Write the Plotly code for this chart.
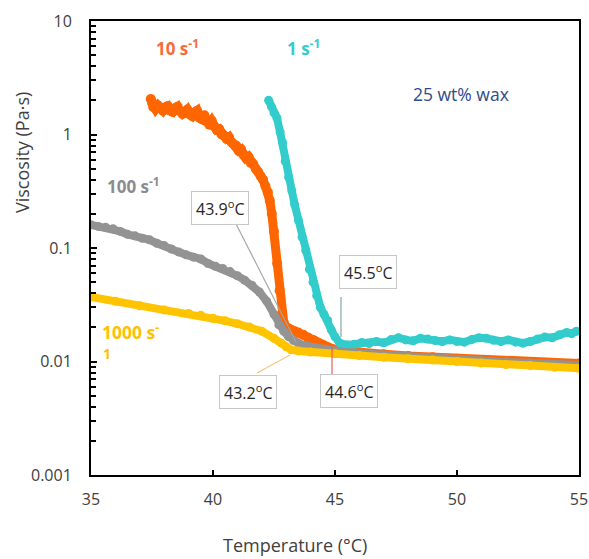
import plotly.graph_objects as go

# ---------------- data ----------------
t_10 = [37.45, 37.5, 37.55, 37.65, 37.75, 37.85, 37.95, 38.05, 38.15, 38.25, 38.35, 38.45,
        38.55, 38.65, 38.75, 38.85, 38.95, 39.05, 39.15, 39.25, 39.35, 39.45, 39.55, 39.65,
        39.75, 39.85, 39.95, 40.05, 40.15, 40.25, 40.35, 40.45, 40.55, 40.65, 40.75, 40.85,
        40.95, 41.05, 41.15, 41.25, 41.35, 41.45, 41.55, 41.65, 41.75, 41.85, 41.95, 42.05,
        42.15, 42.25, 42.33, 42.41, 42.5, 42.63, 42.73, 42.83, 42.9, 43.0, 43.1, 43.2,
        43.35, 43.5, 43.7, 43.9, 44.1, 44.3, 44.5, 44.7, 44.9, 45.2, 45.6, 46.0, 47.0,
        48.0, 49.0, 50.0, 51.0, 52.0, 53.0, 54.0, 55.0]
eta_10 = [2.05, 1.9, 1.75, 1.68, 1.80, 1.70, 1.62, 1.74, 1.78, 1.62, 1.58, 1.70,
          1.76, 1.60, 1.52, 1.58, 1.66, 1.50, 1.45, 1.56, 1.62, 1.40, 1.36, 1.48,
          1.30, 1.22, 1.32, 1.18, 1.10, 1.12, 1.00, 0.98, 0.92, 0.95, 0.86, 0.82,
          0.80, 0.72, 0.74, 0.66, 0.62, 0.64, 0.56, 0.55, 0.50, 0.47, 0.43, 0.40,
          0.35, 0.31, 0.26, 0.20, 0.14, 0.073, 0.042, 0.0265, 0.022, 0.020, 0.0195, 0.019,
          0.0185, 0.018, 0.0172, 0.0163, 0.0155, 0.0146, 0.0139, 0.0133, 0.0129, 0.0125, 0.0122, 0.0120, 0.0116,
          0.0112, 0.0109, 0.0106, 0.0103, 0.0101, 0.0099, 0.0097, 0.0096]

t_1 = [42.28, 42.4, 42.5, 42.62, 42.75, 42.85, 42.96, 43.1, 43.23, 43.35, 43.5, 43.65,
       43.8, 43.95, 44.1, 44.25, 44.4, 44.55, 44.7, 44.85, 45.0, 45.2, 45.5, 45.8, 46.1,
       46.4, 46.7, 47.0, 47.3, 47.6, 47.9, 48.2, 48.5, 48.8, 49.1, 49.4, 49.7, 50.0,
       50.3, 50.6, 50.9, 51.2, 51.5, 51.8, 52.1, 52.4, 52.7, 53.0, 53.3, 53.6, 53.9,
       54.2, 54.5, 54.7, 54.9]
eta_1 = [2.0, 1.75, 1.55, 1.40, 1.05, 0.85, 0.58, 0.42, 0.32, 0.24, 0.175, 0.125,
         0.095, 0.065, 0.050, 0.038, 0.030, 0.026, 0.023, 0.019, 0.0165, 0.0145, 0.0140, 0.0142, 0.0147,
         0.0144, 0.0150, 0.0146, 0.0156, 0.0162, 0.0155, 0.0152, 0.0160, 0.0158, 0.0153, 0.0150, 0.0155, 0.0150,
         0.0148, 0.0156, 0.0162, 0.0160, 0.0154, 0.0150, 0.0155, 0.0148, 0.0145, 0.0150, 0.0158, 0.0164, 0.0162,
         0.0172, 0.0180, 0.0176, 0.0185]

t_100 = [35.0, 35.3, 35.6, 35.9, 36.2, 36.5, 36.8, 37.1, 37.4, 37.7, 38.0, 38.3, 38.6,
         38.9, 39.2, 39.5, 39.8, 40.1, 40.4, 40.7, 41.0, 41.3, 41.6, 41.9, 42.2, 42.5,
         42.7, 42.9, 43.1, 43.3, 43.5, 43.8, 44.2, 44.6, 45.0, 46.0, 47.0, 48.0, 49.0,
         50.0, 51.0, 52.0, 53.0, 54.0, 55.0]
eta_100 = [0.160, 0.155, 0.152, 0.148, 0.140, 0.132, 0.128, 0.122, 0.118, 0.110, 0.105, 0.098, 0.092,
           0.087, 0.083, 0.080, 0.073, 0.069, 0.066, 0.062, 0.057, 0.052, 0.047, 0.041, 0.034, 0.026,
           0.021, 0.0185, 0.0165, 0.0153, 0.0145, 0.0138, 0.0132, 0.0128, 0.0124, 0.0118, 0.0114, 0.0110, 0.0107,
           0.0104, 0.0101, 0.0099, 0.0097, 0.0095, 0.0093]

t_1000 = [35.0, 36.0, 37.0, 38.0, 39.0, 39.5, 40.0, 40.5, 41.0, 41.5, 42.0, 42.5, 42.8,
          43.0, 43.2, 43.5, 44.0, 45.0, 46.0, 47.0, 48.0, 49.0, 50.0, 51.0, 52.0, 53.0,
          54.0, 55.0]
eta_1000 = [0.037, 0.034, 0.031, 0.0285, 0.0265, 0.0255, 0.024, 0.0228, 0.0215, 0.0201, 0.0185, 0.0160, 0.0145,
            0.0135, 0.0127, 0.0124, 0.0121, 0.0117, 0.0113, 0.0109, 0.0106, 0.0103, 0.0100, 0.0097, 0.0094, 0.0092,
            0.0089, 0.0087]

x_ticks = [35, 40, 45, 50, 55]
y_major = [0.001, 0.01, 0.1, 1, 10]
y_major_text = ["0.001", "0.01", "0.1", "1", "10"]

# ---------------- figure ----------------
W, H = 589, 559
L, R, T, B = 91, 10, 21, 84
PW, PH = W - L - R, H - T - B


def px(x):
    return (x - L) / PW


def py(y):
    return (H - B - y) / PH


FONT = "Open Sans"
C_OR, C_CY, C_GR, C_YE = "#FF6600", "#33CCCC", "#939393", "#FFC400"

fig = go.Figure()
for t, e, c, w in [(t_10, eta_10, C_OR, 9), (t_1, eta_1, C_CY, 8),
                   (t_100, eta_100, C_GR, 8), (t_1000, eta_1000, C_YE, 8)]:
    fig.add_trace(go.Scatter(x=t, y=e, mode="lines+markers",
                             line=dict(color=c, width=w),
                             marker=dict(color=c, size=w + 1),
                             showlegend=False, hoverinfo="skip"))

# minor tick values on log axis (2..9 within each decade)
y_minor = [d * m for d in y_major[:-1] for m in range(2, 10)]

fig.update_xaxes(range=[35, 55], tickvals=x_ticks, ticks="inside", ticklen=5,
                 tickwidth=1.5, tickcolor="black", showline=True, mirror=True,
                 linecolor="black", linewidth=2, showgrid=False, zeroline=False,
                 tickfont=dict(family=FONT, size=16, color="#404040"),
                 ticklabelstandoff=9, automargin=False)
fig.update_yaxes(type="log", range=[-3, 1], tickvals=y_major, ticktext=y_major_text,
                 ticks="inside", ticklen=6, tickwidth=1.5, tickcolor="black",
                 minor=dict(tickmode="array", tickvals=y_minor, ticks="inside",
                            ticklen=5, tickwidth=1.5, tickcolor="black", showgrid=False),
                 showline=True, mirror=True, linecolor="black", linewidth=2,
                 showgrid=False, zeroline=False,
                 tickfont=dict(family=FONT, size=16, color="#404040"),
                 ticklabelstandoff=14, automargin=False)

ann = []


def text(x, y, s, color, size=17, bold=False, xanchor="center"):
    ann.append(dict(x=px(x), y=py(y), xref="paper", yref="paper", text=(f"<b>{s}</b>" if bold else s),
                    showarrow=False, xanchor=xanchor, yanchor="middle",
                    font=dict(family=FONT, size=size, color=color)))


text(177, 47, "10 s<sup>-1</sup>", "#F86A3A", bold=True)
text(303, 47, "1 s<sup>-1</sup>", C_CY, bold=True)
text(461, 94, "25 wt% wax", "#2F4B8A", size=17.5)
text(133, 185, "100 s<sup>-1</sup>", "#8C8C8C", bold=True)
text(100, 331, "1000 s<sup>-</sup>", "#FFC000", size=17.5, bold=True, xanchor="left")
text(101, 353, "1", "#FFC000", size=14, bold=True, xanchor="left")

for (cx, cy, s) in [(220, 208, "43.9<sup>o</sup>C"), (368, 272, "45.5<sup>o</sup>C"),
                    (248, 392, "43.2<sup>o</sup>C"), (349, 391, "44.6<sup>o</sup>C")]:
    ann.append(dict(x=px(cx), y=py(cy), xref="paper", yref="paper", text=s,
                    showarrow=False, xanchor="center", yanchor="middle",
                    bgcolor="white", bordercolor="#C8C8C8", borderwidth=1, borderpad=4,
                    font=dict(family=FONT, size=16, color="#262626")))

ann.append(dict(x=px(22), y=py(153), xref="paper", yref="paper", text="Viscosity (Pa·s)",
                showarrow=False, textangle=-90, xanchor="center", yanchor="middle",
                font=dict(family=FONT, size=18, color="#404040")))
ann.append(dict(x=px(295), y=py(545), xref="paper", yref="paper", text="Temperature (°C)",
                showarrow=False, xanchor="center", yanchor="middle",
                font=dict(family=FONT, size=18, color="#404040")))

shapes = []
for (x0, y0, x1, y1, c) in [(231, 214, 296, 342, "#A6A6A6"),
                            (341, 297, 341, 337, "#7FA9A8"),
                            (257, 373, 290, 355, "#F5C77E"),
                            (332, 347, 332, 382, "#EE5A64")]:
    shapes.append(dict(type="line", xref="paper", yref="paper",
                       x0=px(x0), y0=py(y0), x1=px(x1), y1=py(y1),
                       line=dict(color=c, width=1.2)))

fig.update_layout(width=W, height=H, margin=dict(l=L, r=R, t=T, b=B, autoexpand=False),
                  paper_bgcolor="white", plot_bgcolor="white",
                  annotations=ann, shapes=shapes)

fig.write_html("out.html", config={"displayModeBar": False},
               post_script="document.body.style.margin='0';")
